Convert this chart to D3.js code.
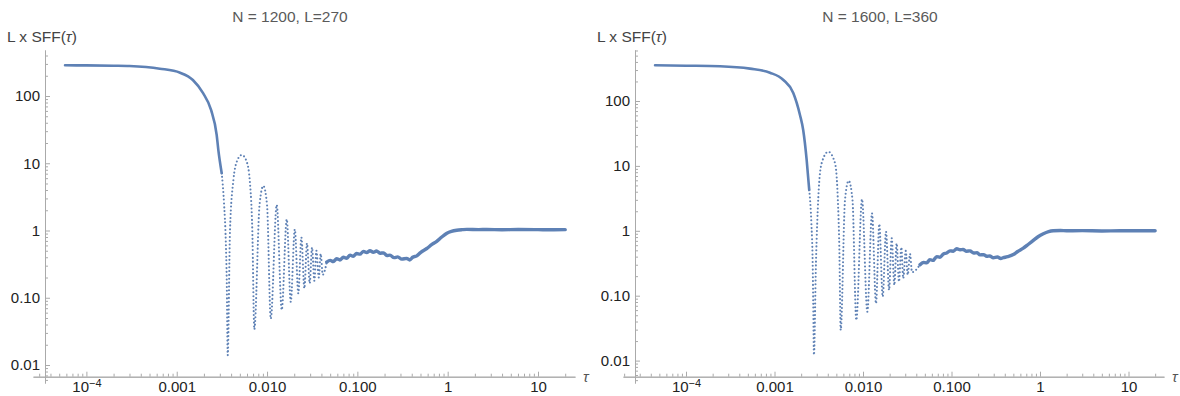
<!DOCTYPE html>
<html>
<head>
<meta charset="utf-8">
<script src="https://cdn.jsdelivr.net/npm/d3@7"></script>
<style>
body { margin: 0; background: #fff; }
text { font-family: "Liberation Sans", Arial, sans-serif; }
</style>
</head>
<body>
<div id="wrapper"></div>
<script>
// titles of the two panels
const titles = ["N = 1200, L=270", "N = 1600, L=360"]

// N = 1200 : tau and L x SFF(tau)
const tauA = [5.8e-5, 1.0e-4, 2.0e-4, 3.0e-4, 6.5e-4, 1.09e-3, 1.51e-3, 1.95e-3, 2.40e-3, 2.77e-3, 2.89e-3,
    3.15e-3, 3.34e-3, 3.49e-3, 3.58e-3, 3.67e-3,
    3.89e-3, 4.24e-3, 4.62e-3, 5.25e-3, 5.96e-3, 6.48e-3, 6.87e-3, 7.23e-3,
    8.26e-3, 9.10e-3, 0.0100, 0.0110, 0.0128, 0.01455, 0.01653, 0.0183, 0.0203, 0.0222, 0.0240, 0.0259,
    0.0277, 0.0297, 0.0315, 0.0334, 0.0352, 0.0374, 0.0393, 0.0414, 0.0458,
    0.050, 0.0542, 0.059, 0.064, 0.070, 0.076, 0.083, 0.090, 0.098, 0.107, 0.117, 0.127, 0.138, 0.150,
    0.163, 0.178, 0.195, 0.212, 0.230, 0.255, 0.28, 0.31, 0.352, 0.38, 0.41, 0.455, 0.50, 0.587, 0.67,
    0.757, 0.86, 0.98, 1.10, 1.26, 1.45, 1.63, 2.2, 2.71, 4, 6, 10, 14, 20]
const sffA = [286, 285, 282, 279, 255, 222, 173, 111, 62, 26.3, 15.7,
    7.1, 2.54, 0.72, 0.18, 0.014,
    1.0, 5.6, 10.5, 13.3, 10.5, 5.0, 1.0, 0.034,
    2.4, 4.6, 2.4, 0.049, 2.4, 0.066, 1.47, 0.087, 1.04, 0.116, 0.79, 0.138,
    0.645, 0.164, 0.56, 0.179, 0.50, 0.20, 0.45, 0.22, 0.34,
    0.36, 0.345, 0.38, 0.365, 0.40, 0.385, 0.43, 0.415, 0.455, 0.445, 0.49, 0.47, 0.50, 0.475,
    0.495, 0.46, 0.465, 0.425, 0.43, 0.395, 0.405, 0.375, 0.385, 0.365, 0.40, 0.42, 0.47, 0.54, 0.62,
    0.69, 0.80, 0.91, 0.97, 1.01, 1.03, 1.04, 1.03, 1.035, 1.025, 1.035, 1.03, 1.025, 1.03]

// N = 1600
const tauB = [4.47e-5, 1.0e-4, 2.42e-4, 5.28e-4, 8.89e-4, 1.26e-3, 1.63e-3, 1.94e-3, 2.11e-3, 2.31e-3,
    2.47e-3, 2.61e-3, 2.70e-3, 2.74e-3, 2.79e-3,
    2.94e-3, 3.13e-3, 3.41e-3, 4.05e-3, 4.83e-3, 5.18e-3, 5.40e-3, 5.60e-3,
    6.26e-3, 6.89e-3, 7.61e-3, 8.40e-3, 9.75e-3, 0.01119, 0.01264, 0.01403, 0.01528, 0.0167, 0.0182, 0.0197,
    0.0211, 0.0226, 0.0240, 0.0255, 0.0271, 0.0285, 0.0304, 0.0320, 0.0340, 0.0358, 0.0441,
    0.048, 0.0525, 0.057, 0.062, 0.068, 0.0741, 0.081, 0.0883, 0.096, 0.105, 0.1145, 0.125, 0.135, 0.148,
    0.162, 0.178, 0.195, 0.210, 0.23, 0.25, 0.27, 0.297, 0.33, 0.36, 0.385, 0.43, 0.499, 0.56, 0.648,
    0.74, 0.84, 0.95, 1.09, 1.25, 1.41, 1.7, 2.0, 3, 5, 8, 12, 20]
const sffB = [355, 350, 343, 315, 273, 211, 133, 61, 35.7, 12.3,
    4.25, 1.31, 0.316, 0.076, 0.0122,
    0.316, 3.35, 11.0, 16.5, 11.0, 3.35, 0.57, 0.0296,
    2.98, 5.9, 2.98, 0.042, 3.06, 0.0567, 1.86, 0.076, 1.27, 0.0966, 0.97, 0.122,
    0.77, 0.146, 0.64, 0.164, 0.557, 0.185, 0.49, 0.21, 0.44, 0.23, 0.30,
    0.325, 0.32, 0.36, 0.35, 0.40, 0.39, 0.44, 0.455, 0.49, 0.485, 0.53, 0.51, 0.515, 0.485,
    0.49, 0.455, 0.46, 0.425, 0.43, 0.405, 0.41, 0.385, 0.395, 0.375, 0.385, 0.40, 0.43, 0.48, 0.54,
    0.62, 0.71, 0.81, 0.90, 0.97, 1.0, 1.01, 1.0, 1.005, 0.995, 1.0, 1.0, 1.0]

// tau range where the samples are sparse (drawn dotted)
const sparseA = [3.15e-3, 0.0458]
const sparseB = [2.47e-3, 0.0441]

// tick labels
const xTickVals = [1e-4, 0.001, 0.01, 0.1, 1, 10]
const xTickLabels = ["10^-4", "0.001", "0.010", "0.100", "1", "10"]
const yTickVals = [0.01, 0.1, 1, 10, 100]
const yTickLabels = ["0.01", "0.10", "1", "10", "100"]

const blue = "#5e81b5"

const svg = d3.select("#wrapper")
    .append("svg")
    .attr("width", 1180)
    .attr("height", 396)

const same = (a, b) => Math.abs(a - b) / b < 1e-6

function drawPanel(p) {
    const data = p.tau.map((t, i) => ({t: t, v: p.sff[i]}))

    // anchors: 1e-4 and 10 on x, 100 and 0.01 on y
    const x = d3.scaleLog().domain([1e-4, 10]).range(p.xr)
    const y = d3.scaleLog().domain([100, 0.01]).range(p.yr)

    const g = svg.append("g")

    // title
    g.append("text")
        .attr("x", p.titleX).attr("y", 22)
        .attr("text-anchor", "middle")
        .style("font-size", "15.5px")
        .style("fill", "#5a5a5a")
        .text(p.title)

    // y label
    const yl = g.append("text")
        .attr("x", p.ox - 38).attr("y", 42)
        .style("font-size", "15.5px")
        .style("fill", "#444")
    yl.append("tspan").text("L x SFF(")
    yl.append("tspan").style("font-style", "italic").text("τ")
    yl.append("tspan").text(")")

    // x axis
    const xa = x.copy().domain([x.invert(p.xExt[0]), x.invert(p.xExt[1])]).range(p.xExt)
    const minorX = xa.ticks().filter(d => !xTickVals.some(v => same(d, v)))
    const axX = g.append("g").attr("transform", `translate(0,${p.oy})`)
    axX.call(d3.axisBottom(xa).tickValues(minorX).tickSizeInner(-3).tickSizeOuter(0).tickFormat(""))
    const axXmaj = axX.append("g").call(d3.axisBottom(xa).tickValues(xTickVals).tickSizeInner(-5).tickSizeOuter(0)
        .tickPadding(5).tickFormat((d, i) => xTickLabels[i]))
    axX.selectAll("path.domain").attr("stroke", "#aaa")
    axX.selectAll(".tick line").attr("stroke", "#aaa")
    axXmaj.selectAll(".tick text")
        .style("font-size", "15px").style("fill", "#222").style("font-family", "Liberation Sans, Arial, sans-serif")
        .each(function(d) {
            const lab = xTickLabels[xTickVals.findIndex(v => same(d, v))]
            if (lab.includes("^")) {
                const parts = lab.split("^")
                const t = d3.select(this).text("")
                t.append("tspan").text(parts[0])
                t.append("tspan").attr("dy", "-0.45em").style("font-size", "11px").text(parts[1].replace("-", "\u2212"))
            }
        })

    g.append("text")
        .attr("x", p.xExt[1] + 8).attr("y", p.oy + 5)
        .style("font-size", "15px").style("font-style", "italic").style("fill", "#555")
        .text("τ")

    // y axis
    const ya = y.copy().domain([y.invert(p.yExt[1]), y.invert(p.yExt[0])]).range([p.yExt[1], p.yExt[0]])
    const minorY = ya.ticks().filter(d => !yTickVals.some(v => same(d, v)))
    const axY = g.append("g").attr("transform", `translate(${p.ox},0)`)
    axY.call(d3.axisLeft(ya).tickValues(minorY).tickSizeInner(-3).tickSizeOuter(0).tickFormat(""))
    axY.append("g").call(d3.axisLeft(ya).tickValues(yTickVals).tickSizeInner(-5).tickSizeOuter(0)
        .tickPadding(5).tickFormat((d, i) => yTickLabels[i]))
    axY.selectAll("path.domain").attr("stroke", "#aaa")
    axY.selectAll(".tick line").attr("stroke", "#aaa")
    axY.selectAll(".tick text")
        .style("font-size", "15px").style("fill", "#222").style("font-family", "Liberation Sans, Arial, sans-serif")

    // the curve
    const line = d3.line()
        .x(d => x(d.t))
        .y(d => y(d.v))
        .curve(d3.curveMonotoneX)

    const head = data.filter(d => d.t <= p.sparse[0])
    const mid = data.filter(d => d.t >= p.sparse[0] && d.t <= p.sparse[1])
    const tail = data.filter(d => d.t >= p.sparse[1])

    g.append("path").datum(head)
        .attr("d", line).attr("fill", "none")
        .attr("stroke", blue).attr("stroke-width", 2.6).attr("stroke-linecap", "round")
    g.append("path").datum(mid)
        .attr("d", line).attr("fill", "none")
        .attr("stroke", blue).attr("stroke-width", 2.1)
        .attr("stroke-linecap", "round").attr("stroke-dasharray", "0 3.8")
    g.append("path").datum(tail)
        .attr("d", line).attr("fill", "none")
        .attr("stroke", blue).attr("stroke-width", 3.4).attr("stroke-linecap", "round")
        .attr("stroke-linejoin", "round")
}

drawPanel({
    title: titles[0], tau: tauA, sff: sffA, sparse: sparseA,
    xr: [86.4, 538], yr: [96, 365],
    xExt: [33, 575], yExt: [50, 383], ox: 45, oy: 376.7, titleX: 290
})
drawPanel({
    title: titles[1], tau: tauB, sff: sffB, sparse: sparseB,
    xr: [686, 1128.5], yr: [101, 360.6],
    xExt: [623, 1164], yExt: [50, 383], ox: 635, oy: 376.7, titleX: 880
})
</script>
</body>
</html>
